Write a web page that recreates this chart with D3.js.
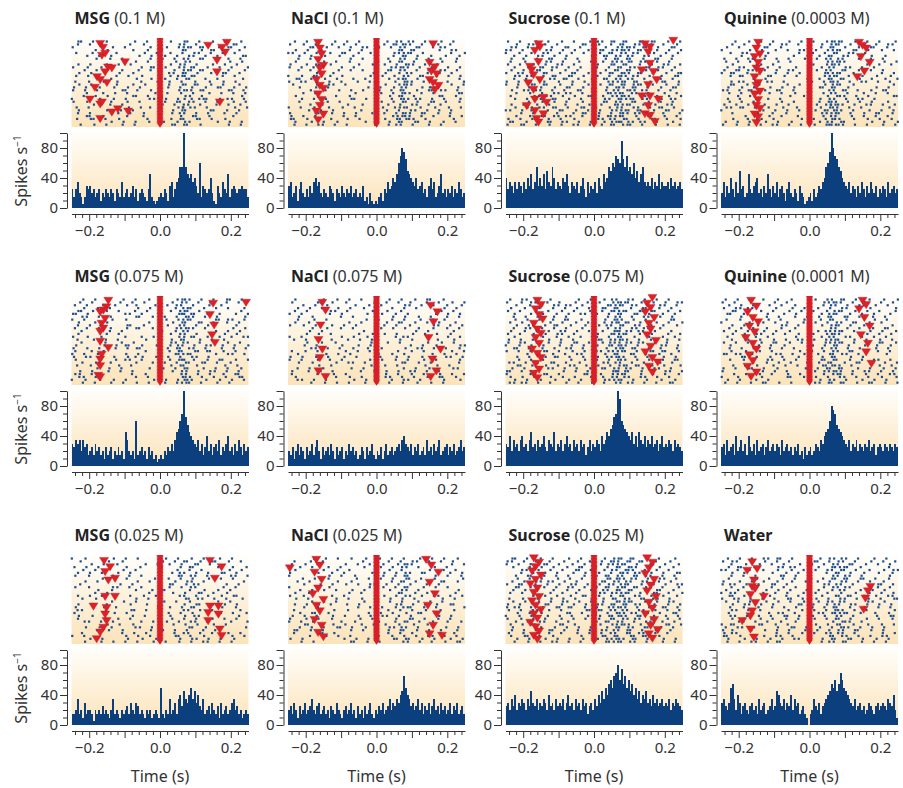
<!DOCTYPE html>
<html>
<head>
<meta charset="utf-8">
<script src="https://cdn.jsdelivr.net/npm/d3@7"></script>
<style>
body { margin: 0; background: #fff; }
svg text { font-family: "Noto Sans", "Open Sans", sans-serif; fill: #333; }
</style>
</head>
<body>
<svg id="chart" width="903" height="788"></svg>
<script>
// panel labels
const tastes = ["MSG", "NaCl", "Sucrose", "Quinine",
	"MSG", "NaCl", "Sucrose", "Quinine",
	"MSG", "NaCl", "Sucrose", "Water"];
const concs = ["(0.1 M)", "(0.1 M)", "(0.1 M)", "(0.0003 M)",
	"(0.075 M)", "(0.075 M)", "(0.075 M)", "(0.0001 M)",
	"(0.025 M)", "(0.025 M)", "(0.025 M)", ""];

const xTickLabels = [-0.2, 0.0, 0.2];
const yTickLabels = [0, 40, 80];

// PSTH, spikes/s in 5 ms bins from -0.25 s to 0.25 s
const psthMsg100 = [25,15,25,35,20,15,5,15,30,25, 30,20,25,15,20,25,10,20,15,25, 20,15,25,20,10,25,20,15,35,15, 20,25,15,20,30,15,25,10,20,25, 20,15,10,25,45,15,10,5,10,15,
	20,15,25,20,10,30,35,15,25,35, 40,55,55,100,55,45,40,45,35,40, 30,20,60,15,30,25,20,25,40,20, 10,5,30,20,15,35,25,20,45,15, 25,30,25,20,25,25,30,25,25,15];
const psthNacl100 = [30,35,15,20,30,10,25,35,20,15, 25,15,30,20,35,40,30,35,20,15, 25,20,15,30,25,20,10,25,20,15, 30,20,15,25,20,30,15,20,25,15, 20,15,30,10,15,5,20,10,5,10,
	5,15,20,10,25,20,35,25,30,40, 35,45,60,70,80,75,65,50,45,40, 35,30,40,25,30,35,20,25,15,30, 40,25,35,15,20,30,45,20,25,15, 25,20,30,15,25,20,35,25,15,20];
const psthSuc100 = [40,25,35,30,20,35,25,35,30,20, 35,25,40,30,45,25,35,55,30,40, 30,45,25,50,35,30,55,40,25,35, 30,25,40,35,45,30,20,35,30,25, 35,20,30,40,25,15,35,20,30,25,
	35,20,40,30,25,45,35,40,55,50, 60,55,70,65,60,90,65,55,70,50, 55,45,60,40,50,35,45,55,35,30, 35,30,40,25,35,30,45,25,35,30, 30,35,25,40,30,35,25,30,35,25];
const psthQui03 = [20,35,15,30,20,40,25,15,35,20, 50,25,30,15,20,45,25,20,30,35, 40,20,25,15,30,20,45,25,15,30, 20,35,15,25,30,20,10,25,35,20, 15,25,20,10,30,20,15,5,10,15,
	20,10,25,15,20,30,25,35,40,55, 60,75,100,80,70,65,55,50,40,35, 30,25,35,20,30,25,15,30,20,35, 25,15,30,20,35,25,20,30,15,25, 20,30,25,15,35,20,25,30,20,25];
const psthMsg075 = [30,25,35,30,35,20,35,25,30,15, 20,25,15,30,20,25,15,20,10,25, 15,20,25,10,20,15,25,15,20,10, 45,35,20,15,20,10,60,15,20,25, 15,20,10,25,15,20,10,15,5,10,
	15,10,20,15,25,20,30,20,35,45, 50,60,70,100,65,55,45,40,35,30, 25,35,20,30,15,25,40,20,30,15, 25,30,20,35,15,25,20,30,40,20, 25,15,30,20,35,25,15,30,20,25];
const psthNacl075 = [20,15,25,10,20,30,15,25,20,10, 25,15,20,30,15,25,35,20,10,25, 15,20,25,15,30,20,10,25,15,20, 25,10,20,15,30,20,25,15,20,10, 15,25,20,10,25,15,20,30,15,10,
	20,15,25,10,20,30,15,20,25,15, 20,25,30,20,35,40,30,25,20,30, 15,25,20,30,15,20,25,15,35,20, 25,15,30,20,25,35,15,20,25,30, 15,25,20,30,15,20,25,35,20,25];
const psthSuc075 = [30,25,40,20,35,25,30,20,35,40, 25,30,20,35,45,25,30,20,35,25, 30,40,25,20,35,30,25,45,20,30, 25,35,20,30,40,25,30,20,35,25, 30,20,35,25,30,15,25,35,20,30,
	25,35,30,20,40,30,35,45,40,50, 55,65,70,100,90,60,55,50,45,40, 35,45,30,40,25,45,35,30,40,25, 35,30,40,25,30,35,20,30,40,25, 30,25,35,30,20,35,25,30,25,20];
const psthQui01 = [25,30,15,35,20,25,30,15,40,20, 25,35,20,30,15,40,25,20,30,15, 35,20,25,30,15,25,35,20,25,30, 20,30,25,15,35,20,25,30,20,25, 15,25,20,30,15,20,10,25,15,20,
	25,15,20,30,25,20,35,30,40,45, 50,60,80,75,70,55,50,45,40,35, 30,25,35,20,30,25,35,20,30,25, 20,30,25,35,20,25,30,15,25,30, 25,20,30,25,20,30,25,20,30,25];
const psthMsg025 = [15,15,20,35,15,20,10,30,15,20, 20,15,5,20,15,20,15,25,15,20, 15,10,20,35,15,20,15,10,20,15, 20,25,15,30,20,15,30,25,15,20, 15,10,20,15,20,10,15,20,15,10,
	50,15,10,20,15,35,15,20,30,15, 35,40,25,45,35,30,40,50,35,45, 30,40,25,20,35,15,20,25,15,30, 20,15,25,10,30,15,20,25,15,20, 30,35,20,25,15,20,10,15,20,15];
const psthNacl025 = [20,25,15,30,20,10,25,15,20,30, 15,20,25,35,20,15,25,30,15,20, 25,15,20,10,25,20,15,30,20,15, 10,20,25,15,20,30,15,20,10,25, 15,20,10,25,15,20,30,15,10,20,
	15,25,20,30,15,20,25,35,20,30, 25,35,30,40,45,65,50,40,35,25, 30,20,25,35,20,30,15,25,20,30, 15,25,35,20,25,15,30,20,25,15, 20,30,15,25,20,30,15,20,25,15];
const psthSuc025 = [25,30,20,35,25,40,20,30,25,35, 30,20,35,25,45,30,25,35,20,30, 25,35,30,20,40,25,30,20,35,25, 30,25,35,20,30,40,25,30,20,35, 25,30,20,35,25,30,15,25,30,20,
	35,25,40,30,45,35,50,40,55,60, 50,65,70,80,60,75,55,65,50,60, 45,55,40,50,35,45,30,40,35,45, 30,35,25,40,30,35,25,30,35,25, 30,25,35,20,30,25,35,30,25,20];
const psthWater = [30,35,25,20,30,50,55,35,20,40, 30,15,25,30,20,15,25,30,20,25, 15,35,20,25,30,15,20,25,35,20, 25,45,40,30,25,35,20,30,25,40, 20,35,25,30,15,20,25,15,10,0,
	15,20,35,25,20,30,15,25,30,35, 40,45,55,50,60,45,55,70,60,50, 45,40,35,30,25,35,20,25,30,20, 25,15,20,30,25,20,15,25,30,20, 25,30,25,20,35,30,25,40,20,10];

// lick markers [time s, trial]
const licksMsg100 = [[-0.169,1.4],[-0.161,2.7],[-0.164,5.5],[-0.155,4.8],[-0.147,9.6],[-0.136,9.9],[-0.099,7.8],[-0.178,13],[-0.155,11.3],[-0.169,14],[-0.150,15],[-0.184,16.7],[-0.198,20.8],[-0.169,22.5],[-0.164,21.8],[-0.136,25.3],[-0.119,24.2],[-0.090,25],[-0.169,27.6],
	[0.136,2],[0.175,2.7],[0.189,1],[0.184,4.4],[0.161,7.2],[0.161,11.3],[0.169,21.8]];
const licksNacl100 = [[-0.165,1],[-0.160,3],[-0.155,5],[-0.165,7],[-0.150,9],[-0.160,10],[-0.155,12],[-0.170,14],[-0.160,16],[-0.150,17],[-0.165,19],[-0.155,21],[-0.160,23],[-0.170,25],[-0.150,26],[-0.165,28],
	[0.160,1.5],[0.150,8],[0.165,9.5],[0.155,11],[0.170,12],[0.150,14],[0.160,15],[0.175,16],[0.165,17.5]];
const licksSuc100 = [[-0.157,1.5],[-0.153,2.6],[-0.167,3.8],[-0.157,7.7],[-0.181,9.4],[-0.176,10.6],[-0.171,12.3],[-0.153,14],[-0.186,15.1],[-0.171,17.4],[-0.143,20.2],[-0.167,20.8],[-0.134,21.9],[-0.190,23.1],[-0.167,24.8],[-0.143,25.9],[-0.162,27.6],[-0.157,28.8],
	[0.144,1.5],[0.158,2.6],[0.153,4.3],[0.158,8.3],[0.135,10.6],[0.168,11.2],[0.177,14],[0.153,15.7],[0.135,19.7],[0.158,19.7],[0.182,20.8],[0.153,23.1],[0.144,25.9],[0.158,26.5],[0.172,28.6],[0.224,0.3]];
const licksQui03 = [[-0.145,1],[-0.150,3],[-0.140,5],[-0.155,6],[-0.145,8],[-0.150,10],[-0.140,11],[-0.155,13],[-0.145,15],[-0.150,16],[-0.140,18],[-0.155,19],[-0.145,21],[-0.150,23],[-0.140,24],[-0.155,26],[-0.145,27],[-0.150,29],
	[0.140,1],[0.150,2],[0.160,3],[0.145,6],[0.170,8],[0.155,11],[0.135,13]];
const licksMsg075 = [[-0.146,1],[-0.151,3.3],[-0.160,4.4],[-0.169,5],[-0.155,7.3],[-0.165,9],[-0.160,10.7],[-0.169,11.8],[-0.169,15.3],[-0.146,17.5],[-0.165,19.8],[-0.169,21.5],[-0.169,23.8],[-0.174,27.2],[-0.169,27.7],
	[0.150,2],[0.141,6],[0.153,9.6],[0.147,13],[0.155,15.7],[0.243,1.7]];
const licksNacl075 = [[-0.153,1.7],[-0.144,4.4],[-0.158,9.6],[-0.164,14.7],[-0.153,18],[-0.160,21],[-0.164,25.6],[-0.144,27.6],
	[0.153,2.7],[0.172,5],[0.161,8.5],[0.147,14],[0.181,18],[0.158,21.5],[0.169,25.6],[0.153,27.6]];
const licksSuc075 = [[-0.160,1],[-0.150,2.5],[-0.165,4],[-0.155,6],[-0.145,7.5],[-0.170,9],[-0.160,11],[-0.150,12.5],[-0.165,14],[-0.155,16],[-0.175,18],[-0.160,19.5],[-0.150,21],[-0.165,23],[-0.155,25],[-0.170,26.5],[-0.160,28],
	[0.165,0],[0.150,2],[0.160,3.5],[0.145,5],[0.170,7],[0.155,9],[0.160,11],[0.150,13],[0.175,15],[0.160,17],[0.145,19],[0.165,21],[0.180,22.5],[0.155,24],[0.165,26]];
const licksQui01 = [[-0.165,1],[-0.150,3],[-0.175,5],[-0.160,7],[-0.145,8.5],[-0.170,10],[-0.155,12],[-0.180,14],[-0.160,16],[-0.150,18],[-0.170,20],[-0.160,22],[-0.175,24],[-0.150,26],[-0.165,27.5],
	[0.150,1],[0.160,2.5],[0.140,4],[0.155,7],[0.170,10],[0.145,13],[0.165,16],[0.160,19],[0.175,23]];
const licksMsg025 = [[-0.158,1.4],[-0.141,3.6],[-0.155,5.3],[-0.146,8.2],[-0.127,7.6],[-0.155,13.9],[-0.127,13.9],[-0.188,17.3],[-0.151,17.8],[-0.155,20.1],[-0.151,22.4],[-0.160,24.7],[-0.169,26.4],[-0.179,28.7],
	[0.141,1.4],[0.174,3.6],[0.155,7.6],[0.141,17.3],[0.165,17.3],[0.136,19.6],[0.165,20.1],[0.136,22.4],[0.169,25.3],[0.174,27.6]];
const licksNacl025 = [[-0.170,1],[-0.160,3],[-0.175,5.5],[-0.155,8],[-0.165,11],[-0.180,13],[-0.150,15],[-0.170,17],[-0.160,19],[-0.175,22],[-0.155,24],[-0.165,26.5],[-0.150,28],[-0.245,4],
	[0.140,1],[0.155,3],[0.175,5.5],[0.150,9],[0.165,13],[0.145,17],[0.170,20],[0.160,24],[0.150,27],[0.185,27.5]];
const licksSuc025 = [[-0.170,0.5],[-0.155,2],[-0.165,3.5],[-0.175,5],[-0.150,6.5],[-0.165,8],[-0.180,9.5],[-0.160,11],[-0.170,12.5],[-0.155,14],[-0.175,15.5],[-0.165,17],[-0.150,18.5],[-0.170,20],[-0.160,21.5],[-0.180,23],[-0.165,24.5],[-0.155,26],[-0.170,27.5],[-0.160,28.8],
	[0.150,0.5],[0.165,2],[0.155,4],[0.145,6],[0.170,8],[0.160,10],[0.150,12],[0.175,14],[0.155,16],[0.165,18],[0.145,20],[0.170,22],[0.160,24],[0.180,25.5],[0.155,27],[0.165,28.5]];
const licksWater = [[-0.162,1.9],[-0.176,4.8],[-0.148,4.2],[-0.157,8.2],[-0.162,10.5],[-0.153,11],[-0.167,13.3],[-0.129,13.9],[-0.153,16.1],[-0.162,19],[-0.167,20.7],[-0.190,22.4],[-0.167,25.3],[-0.157,28.1],
	[0.172,10.5],[0.165,12],[0.158,14.5],[0.153,18.4]];

const psths = [psthMsg100, psthNacl100, psthSuc100, psthQui03, psthMsg075, psthNacl075, psthSuc075, psthQui01, psthMsg025, psthNacl025, psthSuc025, psthWater];
const licks = [licksMsg100, licksNacl100, licksSuc100, licksQui03, licksMsg075, licksNacl075, licksSuc075, licksQui01, licksMsg025, licksNacl025, licksSuc025, licksWater];

const binWidth = 0.005, nTrials = 30;
const tMin = -0.25, tMax = 0.25;
// fixed trial order used to lay the binned spikes out over trials
const trialOrder = [17,3,25,9,28,0,14,21,6,11,26,2,19,8,23,13,29,4,16,10,24,1,20,7,27,12,5,22,15,18];

const colZero = [160, 376.5, 594, 809.5];
const rowTop = [0, 258, 517];
const pxPerSec = 354;

const svg = d3.select("#chart");
const defs = svg.append("defs");
const grad = defs.append("linearGradient").attr("id", "cream")
	.attr("x1", 0).attr("y1", 0).attr("x2", 0).attr("y2", 1);
grad.append("stop").attr("offset", "0%").attr("stop-color", "#fffefb");
grad.append("stop").attr("offset", "100%").attr("stop-color", "#fce3b9");

const lickPath = "M-4.5,-3.6L4.5,-3.6L0,3.6Z";
const cuePath = "M-3.5,-2.6L3.5,-2.6L0,2.6Z";

psths.forEach((psth, idx) => {
	const col = idx % 4, row = Math.floor(idx / 4);
	const z = colZero[col], dy = rowTop[row];
	const x = d3.scaleLinear().domain([tMin, tMax]).range([z + tMin * pxPerSec, z + tMax * pxPerSec]);
	const yTrial = d3.scaleLinear().domain([0, nTrials]).range([dy + 40, dy + 126]);
	const y = d3.scaleLinear().domain([0, 100]).range([dy + 208, dy + 133]);
	const g = svg.append("g");

	// title
	const title = g.append("text").attr("x", x(tMin) + 3).attr("y", dy + 24)
		.style("font-size", "16px");
	title.append("tspan").attr("font-weight", "bold").style("fill", "#222").text(tastes[idx]);
	if (concs[idx]) title.append("tspan").text(" " + concs[idx]);

	// raster background
	g.append("rect").attr("x", x(tMin)).attr("y", dy + 38)
		.attr("width", x(tMax) - x(tMin)).attr("height", 89)
		.attr("fill", "url(#cream)");

	// spikes laid out from the binned counts
	const spikes = [];
	psth.forEach((rate, i) => {
		const n = Math.round(rate * binWidth * nTrials);
		for (let k = 0; k < n; k++) {
			const trial = trialOrder[(i * 7 + k * 11 + idx * 3) % nTrials];
			spikes.push({
				t: tMin + (i + ((trial * 3 + i) % 4 + 0.5) / 4) * binWidth,
				trial: trial
			});
		}
	});
	g.append("g").selectAll("rect").data(spikes).enter().append("rect")
		.attr("x", d => x(d.t) - 1)
		.attr("y", d => yTrial(d.trial + 0.5) - 1)
		.attr("width", 2.2).attr("height", 2.2)
		.attr("fill", "#1d4f8e");

	// stimulus onset column
	const cue = d3.range(0, nTrials, 0.5);
	g.append("g").selectAll("path").data(cue).enter().append("path")
		.attr("d", cuePath)
		.attr("transform", d => `translate(${x(0)},${yTrial(d) + 0.5})`)
		.attr("fill", "#d81f28");

	// licks
	g.append("g").selectAll("path").data(licks[idx]).enter().append("path")
		.attr("d", lickPath)
		.attr("transform", d => `translate(${x(d[0])},${yTrial(d[1])})`)
		.attr("fill", "#dc2129")
		.attr("stroke", "#c01820").attr("stroke-width", 0.4);

	// histogram background
	g.append("rect").attr("x", x(tMin)).attr("y", y(100) - 2)
		.attr("width", x(tMax) - x(tMin)).attr("height", y(0) - y(100) + 2)
		.attr("fill", "url(#cream)");

	g.append("g").attr("shape-rendering", "crispEdges")
		.selectAll("rect").data(psth).enter().append("rect")
		.attr("x", (d, i) => x(tMin + i * binWidth))
		.attr("width", x(tMin + binWidth) - x(tMin) + 0.2)
		.attr("y", d => y(d))
		.attr("height", d => y(0) - y(d))
		.attr("fill", "#0c3f7d");

	// y axis
	const yAxis = g.append("g").attr("transform", `translate(${x(tMin) - 4.5},0)`)
		.call(d3.axisLeft(y).tickValues(d3.range(0, 101, 10)).tickSizeOuter(0)
			.tickFormat(d => yTickLabels.includes(d) ? d : ""));
	yAxis.selectAll(".tick line").attr("x2", d => (d % 40 === 0 || d === 100) ? -7 : -4);
	yAxis.selectAll(".tick text").attr("x", -9).style("font-size", "15px");

	// x axis
	const xAxis = g.append("g").attr("transform", `translate(0,${dy + 214})`)
		.call(d3.axisBottom(x).tickValues(d3.range(-12, 13).map(k => k * 0.02)).tickSizeOuter(0)
			.tickFormat(d => xTickLabels.some(v => Math.abs(v - d) < 1e-9) ? d3.format(".1f")(d) : ""));
	xAxis.selectAll(".tick line").attr("y2", d => (Math.round(d * 50) % 5 === 0) ? 7 : 4);
	xAxis.selectAll(".tick text").attr("y", 11).style("font-size", "15px");

	[yAxis, xAxis].forEach(a => {
		a.selectAll("path, line").attr("stroke", "#333");
		a.selectAll("text").style("fill", "#333").style("font-family", null);
	});

	if (col === 0) {
		g.append("text").attr("transform", `translate(27,${dy + 171}) rotate(-90)`)
			.attr("text-anchor", "middle").style("font-size", "16px")
			.text("Spikes s")
			.append("tspan").attr("dy", -6).style("font-size", "10px").text("\u22121");
	}
	if (row === 2) {
		g.append("text").attr("x", x(0)).attr("y", dy + 265)
			.attr("text-anchor", "middle").style("font-size", "16px").text("Time (s)");
	}
});
</script>
</body>
</html>
